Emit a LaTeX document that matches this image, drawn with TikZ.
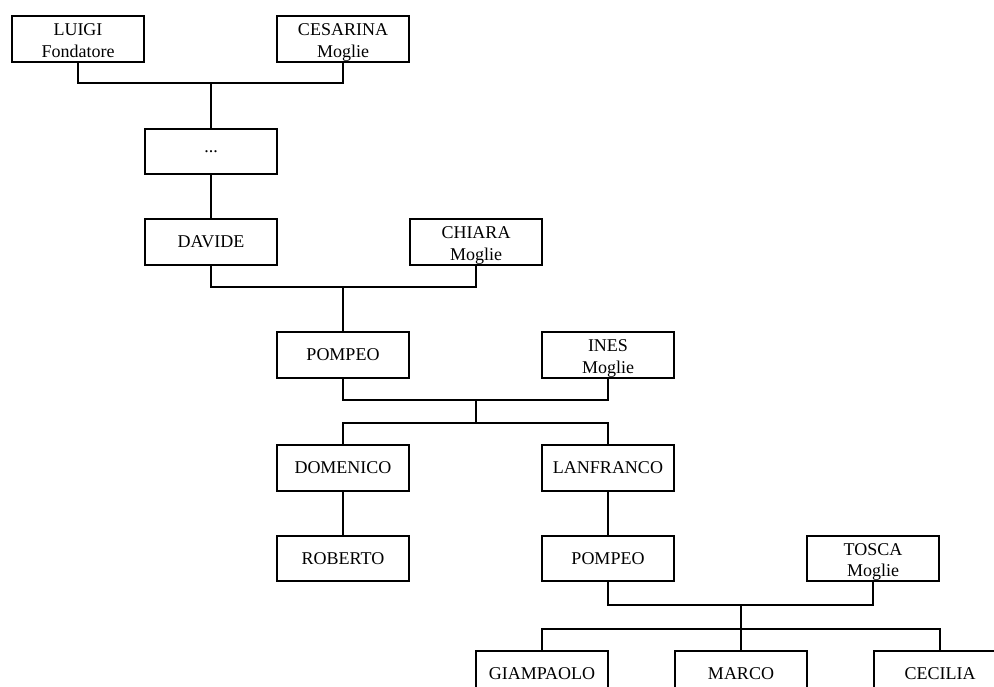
\documentclass[tikz,border=0pt]{standalone}
\usepackage{fontspec}
\setmainfont{Liberation Serif}
\begin{document}
\begin{tikzpicture}[x=1pt,y=-1pt,
  person/.style={draw, line width=1.6pt, minimum width=132.5pt, minimum height=45.5pt,
    inner sep=0pt, align=center, font=\fontsize{18}{21.5}\selectfont},
  couple/.style={person, text height=36pt, text depth=0pt},
  link/.style={line width=1.6pt}]
\useasboundingbox (0,0) rectangle (994,686);
\clip (0,0) rectangle (994,686);
\fill[white] (0,0) rectangle (994,686);
% nodes
\node[couple] (luigi) at (78,39) {LUIGI\\Fondatore};
\node[couple] (cesarina) at (343,39) {CESARINA\\Moglie};
\node[person] (dots) at (211,151.5) {...};
\node[person] (davide) at (211,242) {DAVIDE};
\node[couple] (chiara) at (476,242) {CHIARA\\Moglie};
\node[person] (pompeoa) at (343,355) {POMPEO};
\node[couple] (ines) at (608,355) {INES\\Moglie};
\node[person] (domenico) at (343,468) {DOMENICO};
\node[person] (lanfranco) at (608,468) {LANFRANCO};
\node[person] (roberto) at (343,558.5) {ROBERTO};
\node[person] (pompeob) at (608,558.5) {POMPEO};
\node[couple] (tosca) at (873,558.5) {TOSCA\\Moglie};
\node[person] (giampaolo) at (542,674) {GIAMPAOLO};
\node[person] (marco) at (741,674) {MARCO};
\node[person] (cecilia) at (940,674) {CECILIA};
% junctions
\coordinate (j1) at (211,83);
\coordinate (j2) at (343,287);
\coordinate (j3) at (476,400);
\coordinate (k3) at (476,423);
\coordinate (j4) at (741,605);
\coordinate (k4) at (741,629);
% connectors
\draw[link] (luigi.south) |- (j1) -| (cesarina.south);
\draw[link] (j1) -- (dots.north);
\draw[link] (dots.south) -- (davide.north);
\draw[link] (davide.south) |- (j2) -| (chiara.south);
\draw[link] (j2) -- (pompeoa.north);
\draw[link] (pompeoa.south) |- (j3) -| (ines.south);
\draw[link] (j3) -- (k3);
\draw[link] (domenico.north) |- (k3) -| (lanfranco.north);
\draw[link] (domenico.south) -- (roberto.north);
\draw[link] (lanfranco.south) -- (pompeob.north);
\draw[link] (pompeob.south) |- (j4) -| (tosca.south);
\draw[link] (j4) -- (marco.north);
\draw[link] (giampaolo.north) |- (k4) -| (cecilia.north);
\end{tikzpicture}
\end{document}
